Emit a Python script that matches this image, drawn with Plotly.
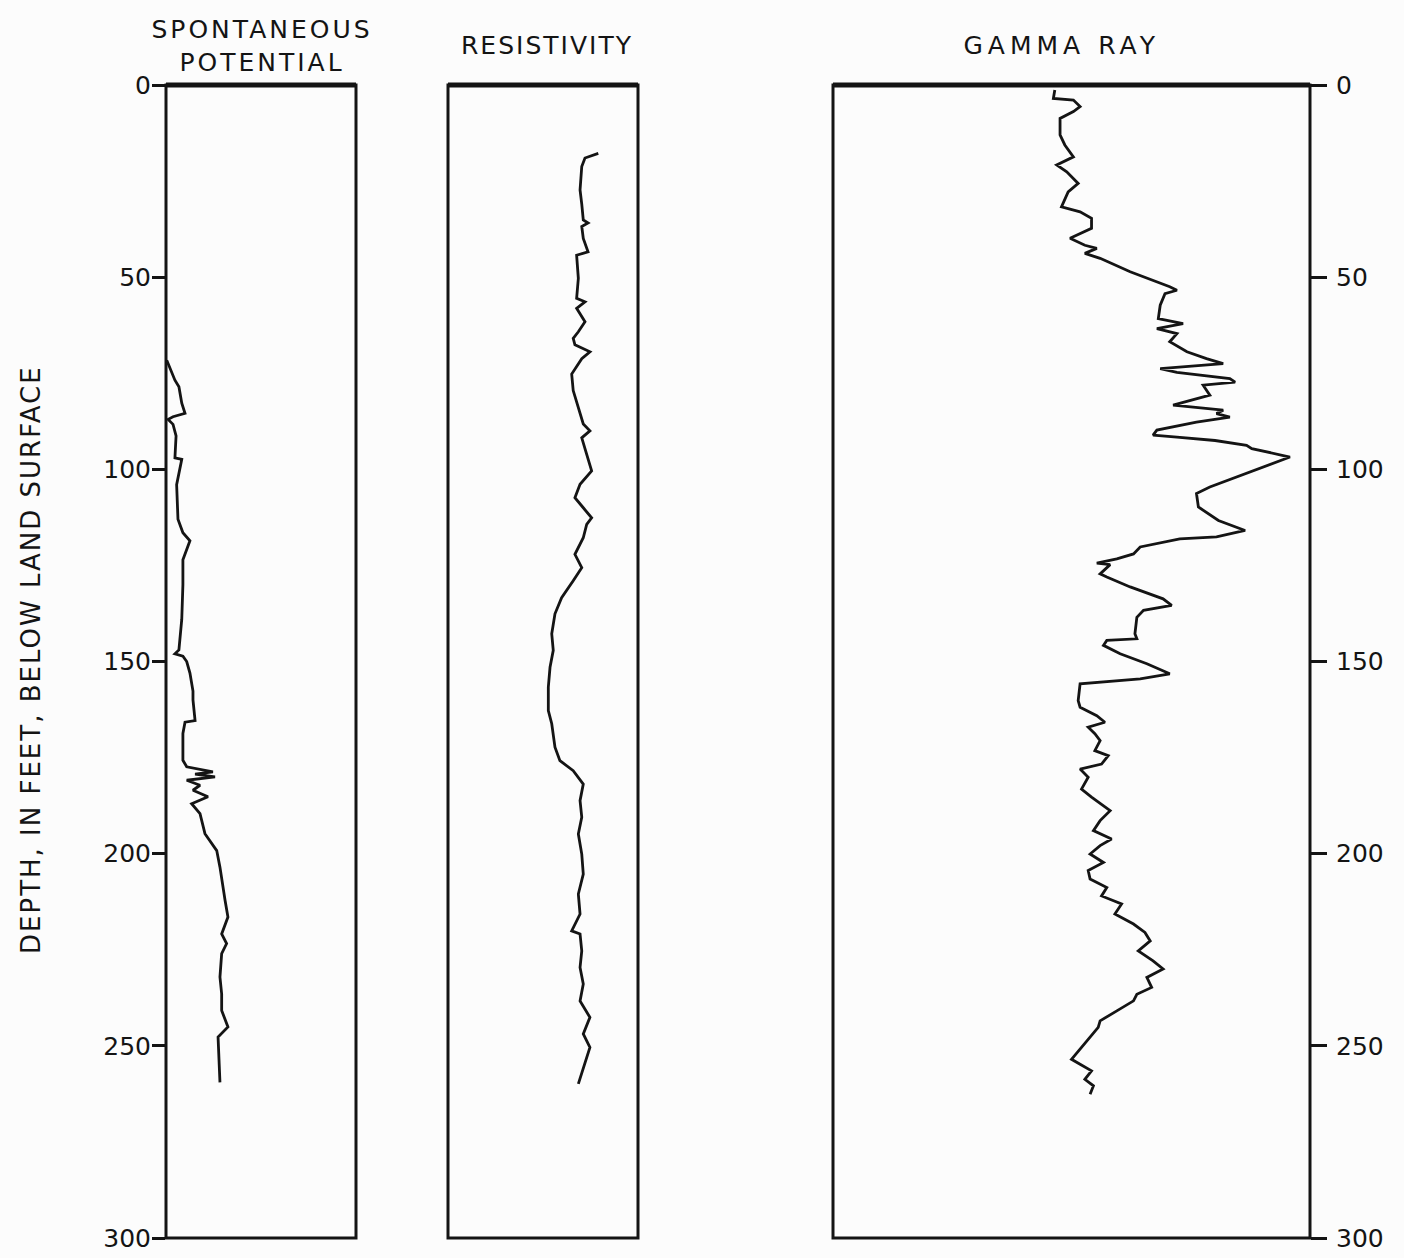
import plotly.graph_objects as go

# ---------------- data (track values on a 0-100 relative scale, depth in feet) ----------------
sp_depth = [71.6, 76.8, 78.5, 82.8, 85.4, 86.3, 87.0, 88.3, 91.3, 97.0, 97.4, 104, 113, 116.5, 118.6,
            123.5, 130, 139, 147, 148, 148.6, 150, 153, 157.7, 160, 165.4, 165.8, 168.7, 175.7, 177.4,
            178.7, 179.3, 180, 180.9, 182.2, 183.5, 185.2, 187, 189.6, 194.8, 199.2, 203.5, 212.2,
            216.5, 220.9, 223.4, 226, 232.1, 236.5, 240.8, 245.1, 247.7, 259.5]
sp_value = [0.4, 4.7, 6.8, 8.3, 10.0, 3.7, 1.1, 3.7, 5.3, 4.7, 8.3, 5.6, 6.3, 8.9, 12.6,
            8.9, 8.9, 8.3, 6.8, 4.7, 8.9, 10.9, 12.6, 14.2, 14.2, 15.3, 10.0, 8.9, 8.9, 10.9,
            24.7, 15.3, 25.8, 10.9, 17.9, 14.2, 22.1, 13.5, 17.9, 20.5, 26.7, 28.4, 31.1,
            32.6, 29.3, 31.9, 29.3, 28.4, 29.3, 29.3, 32.6, 27.4, 28.4]

res_depth = [17.8, 19.0, 21.2, 27.3, 31, 35.1, 35.9, 36.8, 39.9, 43.4, 44.3, 50.3, 55.5, 56.4, 58.1,
             61.6, 64.2, 65.9, 67.6, 69.4, 71.2, 75.2, 79.5, 83.9, 88.2, 90.0, 91.8, 96.1, 100.4,
             103.9, 107.4, 110, 112.6, 114.3, 117.8, 122.1, 125.6, 129, 133.4, 137.6, 142.8, 147.1,
             151.5, 156.7, 162.8, 166.2, 168.8, 172.3, 175.8, 178.4, 181.9, 186.2, 190.5, 194.9,
             200.1, 205.3, 210.5, 215.7, 220.1, 220.9, 225.3, 229.6, 233.9, 238.3, 242.6, 246.9,
             250.4, 255.6, 259.9]
res_value = [79.1, 72.1, 70.4, 69.5, 70.4, 71.2, 73.7, 70.4, 71.2, 73.7, 67.7, 68.6, 67.7, 72.1, 67.7,
             72.1, 68.6, 65.9, 66.8, 74.7, 70.4, 65.1, 65.9, 68.6, 71.2, 74.7, 70.4, 73.0, 75.6,
             69.5, 66.8, 71.2, 75.6, 73.0, 71.2, 66.8, 70.4, 65.9, 59.8, 56.3, 54.6, 55.4,
             53.7, 52.8, 52.8, 54.6, 55.4, 56.3, 58.9, 65.9, 71.2, 69.5, 70.4, 68.6,
             70.4, 71.2, 68.6, 69.5, 65.1, 69.5, 70.4, 69.5, 71.2, 69.5, 74.7, 71.2,
             74.7, 71.2, 68.6]

gr_depth = [1.3, 3.5, 3.9, 5.6, 6.9, 8.7, 13, 15.6, 18.7, 20.8, 22.6, 25.6, 27.8, 31.7, 33, 34.7,
            37.3, 39.9, 41.7, 42.5, 43.8, 45.1, 48.6, 51.2, 52.5, 53.4, 54.3, 57.3, 60.8, 62.1,
            63.4, 64.7, 66.8, 69.4, 71.2, 72.5, 73.8, 74.8, 76.4, 77.3, 78.1, 80.7, 83.3, 84.6,
            85.5, 86.4, 87.7, 89.8, 91.1, 91.6, 92.5, 93.75, 94.6, 96.8, 99.4, 102, 104.6, 106.3,
            109.8, 113.3, 115.9, 117.6, 118.1, 120.2, 122, 123.3, 124.4, 124.8, 127.2, 128, 130.6,
            133.7, 135.4, 136.7, 138.5, 142.8, 144.1, 144.5, 145.8, 148, 150.6, 153.2, 154.5,
            155.8, 160.2, 161.9, 164.1, 165.8, 167.1, 168.8, 170.6, 173.2, 174.5, 176.7, 178,
            180.1, 183.2, 185.3, 188.8, 191.4, 194, 196.2, 197.9, 200.1, 202.3, 204.4, 206.6,
            208.8, 211, 213.1, 215.7, 218.3, 220.5, 222.7, 225.3, 227.9, 230, 232.2, 234.8,
            236.6, 238.3, 240.9, 243.5, 245.2, 247.8, 250.4, 253.5, 254.8, 256.5, 258.7, 260.4,
            262.6]
gr_value = [46.5, 46.2, 50.4, 51.8, 50.4, 47.6, 47.6, 48.6, 50.4, 46.9, 49.0, 51.4, 49.3, 47.9, 51.8, 54.2,
            54.2, 49.7, 52.8, 55.3, 52.8, 56.0, 62.3, 67.9, 70.6, 72.1, 69.6, 68.6, 68.2, 73.4,
            67.9, 72.1, 70.6, 74.2, 78.3, 81.8, 68.6, 72.1, 83.2, 84.3, 77.6, 79.0, 71.3, 81.8,
            80.4, 83.2, 76.2, 67.9, 67.1, 72.1, 80.1, 86.7, 87.8, 95.8, 90.1, 84.3, 79.0, 76.2,
            76.6, 80.8, 86.4, 80.4, 72.7, 64.4, 63.0, 59.5, 55.3, 58.1, 56.0, 57.4, 62.3,
            69.2, 71.0, 65.1, 63.7, 63.3, 63.7, 57.4, 56.7, 60.2, 65.8, 70.6, 64.4,
            51.8, 51.4, 51.8, 55.3, 57.0, 53.5, 54.9, 56.0, 54.9, 57.7, 56.3, 51.8,
            53.5, 52.1, 54.2, 58.1, 56.0, 54.6, 58.4, 56.0, 53.9, 56.7, 53.5, 53.9,
            57.4, 56.3, 60.5, 59.1, 63.0, 65.4, 66.5, 64.0, 67.1, 69.2, 65.8, 66.8,
            63.7, 63.0, 59.5, 56.0, 55.6, 53.9, 52.1, 50.0, 51.8, 54.2, 52.8, 54.6,
            53.9]

track_titles = ["SPONTANEOUS<br>POTENTIAL", "RESISTIVITY", "GAMMA RAY"]
depth_ticks = [0, 50, 100, 150, 200, 250, 300]
depth_title = "DEPTH, IN FEET, BELOW LAND SURFACE"

# ---------------- layout constants ----------------
W, H = 1404, 1258
INK = "#141414"
FONT = "DejaVu Sans"
y_dom = [(H - 1238) / H, (H - 85) / H]
x_doms = [[166 / W, 356 / W], [448 / W, 638 / W], [833 / W, 1310 / W]]

fig = go.Figure()
line = dict(color=INK, width=2.8)
fig.add_trace(go.Scatter(x=sp_value, y=sp_depth, mode="lines", line=line, xaxis="x", yaxis="y",
                         hoverinfo="skip", showlegend=False))
fig.add_trace(go.Scatter(x=res_value, y=res_depth, mode="lines", line=line, xaxis="x2", yaxis="y",
                         hoverinfo="skip", showlegend=False))
fig.add_trace(go.Scatter(x=gr_value, y=gr_depth, mode="lines", line=line, xaxis="x3", yaxis="y2",
                         hoverinfo="skip", showlegend=False))

xcommon = dict(range=[0, 100], visible=False, fixedrange=True)
ycommon = dict(range=[300, 0], domain=y_dom, tickvals=depth_ticks,
               ticks="outside", tickwidth=2.5, tickcolor=INK,
               showgrid=False, zeroline=False, showline=False,
               tickfont=dict(family=FONT, size=25, color=INK), automargin=False,
               fixedrange=True)

fig.update_layout(
    width=W, height=H,
    margin=dict(l=0, r=0, t=0, b=0),
    paper_bgcolor="#fcfcfc", plot_bgcolor="rgba(0,0,0,0)",
    xaxis=dict(domain=x_doms[0], anchor="y", **xcommon),
    xaxis2=dict(domain=x_doms[1], anchor="y", **xcommon),
    xaxis3=dict(domain=x_doms[2], anchor="y2", **xcommon),
    yaxis=dict(anchor="x", side="left", ticklen=13, ticklabelstandoff=-4, **ycommon),
    yaxis2=dict(anchor="x3", side="right", overlaying="y", ticklen=16, ticklabelstandoff=4, **ycommon),
)

shapes = []
for ax in ["x", "x2", "x3"]:
    yr = "y2 domain" if ax == "x3" else "y domain"
    shapes.append(dict(type="rect", xref=f"{ax} domain", yref=yr, x0=0, x1=1, y0=0, y1=1,
                       line=dict(color=INK, width=3)))
    shapes.append(dict(type="line", xref=f"{ax} domain", yref=yr, x0=0, x1=1, y0=1, y1=1,
                       line=dict(color=INK, width=5)))
fig.update_layout(shapes=shapes)

title_pos = [(262, 46), (547, 46), (1062, 46)]
ann = []
for txt, (px, py) in zip(track_titles, title_pos):
    ann.append(dict(text=txt, xref="paper", yref="paper", x=px / W, y=(H - py) / H,
                    xanchor="center", yanchor="middle", showarrow=False,
                    font=dict(family=FONT, size=25, color=INK)))
ann.append(dict(text=depth_title, xref="paper", yref="paper", x=31 / W, y=(H - 660) / H,
                xanchor="center", yanchor="middle", textangle=-90, showarrow=False,
                font=dict(family=FONT, size=26, color=INK)))
fig.update_layout(annotations=ann)

post = """
document.body.style.margin = '0';
var spacing = ['3px', '2px', '5px', '2px'];
var t = document.querySelectorAll('.annotation-text');
t.forEach(function(el, i){ el.style.letterSpacing = spacing[i] || '2px'; });
"""
fig.write_html("out.html", post_script=post, config={"displayModeBar": False})
